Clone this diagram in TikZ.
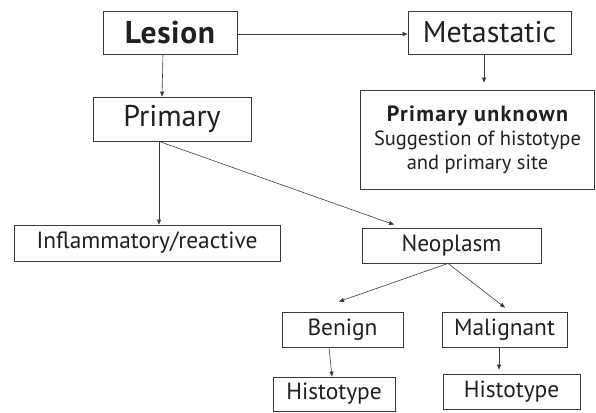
\documentclass[tikz,border=0pt]{standalone}
\usepackage{fontspec}
\setmainfont{PT Sans}
\usetikzlibrary{arrows.meta}
\definecolor{ink}{HTML}{231F20}
\definecolor{edge}{HTML}{3A3A3A}
\begin{document}
\begin{tikzpicture}[x=1pt,y=-1pt,
  box/.style={draw=edge,line width=0.8pt,rectangle,inner sep=0pt,text=ink,align=center},
  big/.style={font=\fontsize{30}{33}\selectfont},
  mid/.style={font=\fontsize{23.4}{27}\selectfont},
  arr/.style={draw=edge,line width=0.6pt,-{Triangle[length=5pt,width=4pt]}}]
\useasboundingbox[fill=white] (0,0) rectangle (596,412);
\node[box,font=\fontsize{31.5}{34}\selectfont\bfseries,minimum width=134pt,minimum height=43pt] (lesion) at (170,32.5) {\addfontfeature{LetterSpace=2}Lesion};
\node[box,big,minimum width=163pt,minimum height=43pt] (meta) at (489.5,32.5) {Metastatic};
\node[box,minimum width=234pt,minimum height=99pt,font=\fontsize{20.5}{24}\selectfont] (unk) at (477.5,139.5) {{\fontsize{22}{24}\selectfont\bfseries\addfontfeature{LetterSpace=6}Primary unknown}\\Suggestion of histotype\\and primary site};
\node[box,big,minimum width=158pt,minimum height=44pt] (primary) at (172,119) {Primary};
\node[box,mid,minimum width=266pt,minimum height=36pt] (infl) at (147,243) {Inflammatory/reactive};
\node[box,mid,minimum width=179pt,minimum height=35pt] (neo) at (451.5,245.5) {Neoplasm};
\node[box,mid,minimum width=121pt,minimum height=35pt] (benign) at (342.5,329.5) {Benign};
\node[box,mid,minimum width=125pt,minimum height=35pt] (malig) at (504.5,329.5) {Malignant};
\node[box,mid,minimum width=122pt,minimum height=34pt] (hist1) at (334,394) {Histotype};
\node[box,mid,minimum width=137pt,minimum height=35pt] (hist2) at (511.5,391.5) {Histotype};
\draw[arr] ([yshift=-1.5pt]lesion.east) -- ([yshift=-1.5pt]meta.west);
\draw[arr] ([xshift=-7pt]lesion.south) -- ([xshift=-10pt]primary.north);
\draw[arr] ([xshift=-5.5pt]meta.south) -- ([xshift=6.5pt,yshift=7pt]unk.north);
\draw[arr] ([xshift=-13pt]primary.south) -- ([xshift=12pt]infl.north);
\draw[arr] ([xshift=-13pt]primary.south) -- ([xshift=-57.5pt,yshift=3pt]neo.north);
\draw[arr] ([xshift=-3.5pt]neo.south) -- ([xshift=-3.5pt,yshift=10pt]benign.north);
\draw[arr] ([xshift=-3.5pt]neo.south) -- ([xshift=0.5pt,yshift=4pt]malig.north);
\draw[arr] ([xshift=-13.5pt]benign.south) -- ([xshift=-2pt]hist1.north);
\draw[arr] ([xshift=-5.5pt]malig.south) -- ([xshift=-12.5pt,yshift=4pt]hist2.north);
\end{tikzpicture}
\end{document}
